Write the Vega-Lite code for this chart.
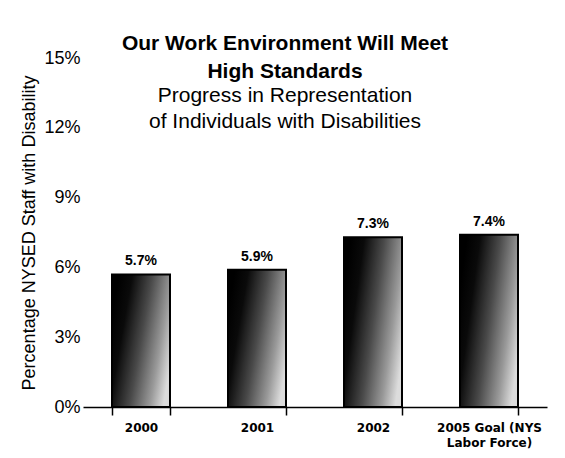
{
  "$schema": "https://vega.github.io/schema/vega-lite/v6.json",
  "autosize": "none",
  "width": 464,
  "height": 349,
  "padding": {"left": 83, "top": 58, "right": 18, "bottom": 51},
  "background": "white",
  "title": {
    "text": ["Our Work Environment Will Meet", "High Standards"],
    "subtitle": ["Progress in Representation", "of Individuals with Disabilities"],
    "anchor": "middle",
    "dx": -30,
    "dy": 87
  },
  "data": {
    "values": [
      {"year": "2000", "pct": 0.057},
      {"year": "2001", "pct": 0.059},
      {"year": "2002", "pct": 0.073},
      {"year": "2005 Goal (NYS Labor Force)", "pct": 0.074}
    ]
  },
  "encoding": {
    "x": {
      "field": "year",
      "type": "nominal",
      "sort": null,
      "scale": {"paddingInner": 0.5, "paddingOuter": 0.25},
      "axis": {
        "title": null,
        "labelAngle": 0,
        "labelFont": "DejaVu Sans",
        "labelFontWeight": "bold",
        "labelFontSize": 12,
        "labelColor": "black",
        "labelPadding": 7,
        "labelLineHeight": 15,
        "labelExpr": "datum.label == '2005 Goal (NYS Labor Force)' ? ['2005 Goal (NYS', 'Labor Force)'] : datum.label",
        "tickBand": "extent",
        "tickSize": 8,
        "tickColor": "black",
        "tickWidth": 1.5,
        "domainColor": "black",
        "domainWidth": 1.5
      }
    },
    "y": {
      "field": "pct",
      "type": "quantitative",
      "scale": {"domain": [0, 0.15]},
      "axis": {
        "title": "Percentage NYSED Staff with Disability",
        "titleFont": "Liberation Sans",
        "titleFontSize": 18,
        "titleFontWeight": "normal",
        "titleColor": "black",
        "titlePadding": 5,
        "values": [0, 0.03, 0.06, 0.09, 0.12, 0.15],
        "format": ".0%",
        "labelFont": "Liberation Sans",
        "labelFontSize": 18,
        "labelColor": "black",
        "labelPadding": 3,
        "ticks": false,
        "domain": false,
        "grid": false
      }
    }
  },
  "layer": [
    {
      "mark": {
        "type": "bar",
        "stroke": "black",
        "strokeWidth": 2,
        "fill": {
          "gradient": "linear",
          "x1": 0, "y1": 0.3, "x2": 1, "y2": 0.7,
          "stops": [
            {"offset": 0, "color": "#000000"},
            {"offset": 0.2, "color": "#0a0a0a"},
            {"offset": 0.5, "color": "#4a4a4a"},
            {"offset": 0.8, "color": "#9a9a9a"},
            {"offset": 1, "color": "#dcdcdc"}
          ]
        }
      }
    },
    {
      "mark": {
        "type": "text",
        "baseline": "bottom",
        "dy": -6,
        "font": "Liberation Sans",
        "fontWeight": "bold",
        "fontSize": 14,
        "color": "black"
      },
      "encoding": {
        "text": {"field": "pct", "type": "quantitative", "format": ".1%"}
      }
    }
  ],
  "config": {
    "view": {"stroke": null},
    "title": {
      "font": "Liberation Sans",
      "fontSize": 21,
      "fontWeight": "bold",
      "color": "black",
      "lineHeight": 28,
      "subtitleFont": "Liberation Sans",
      "subtitleFontSize": 21,
      "subtitleFontWeight": "normal",
      "subtitleColor": "black",
      "subtitleLineHeight": 26,
      "subtitlePadding": 3
    }
  }
}
